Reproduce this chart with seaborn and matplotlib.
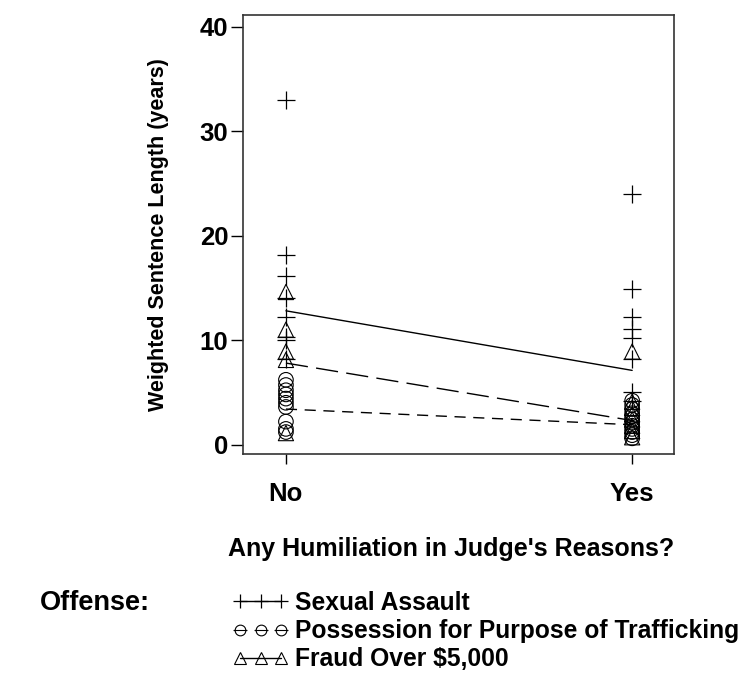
"""
Weighted sentence length by offense, split by whether the judge's
reasons contained any humiliation (No / Yes).
Points = individual cases, lines = weighted mean per offense.
"""
import numpy as np
import pandas as pd
import matplotlib
matplotlib.use("Agg")
import matplotlib.pyplot as plt
from matplotlib.lines import Line2D
from matplotlib.path import Path
import seaborn as sns

# ---- data ----
offenses = ["Sexual Assault", "Possession for Purpose of Trafficking", "Fraud Over $5,000"]
groups = ["No", "Yes"]

sexual_no = [33.0, 18.1, 16.1, 14.0, 12.2, 10.3, 10.0, 8.2]
sexual_yes = [24.0, 14.9, 12.2, 11.1, 10.2, 8.2, 5.0, 4.2]
traffic_no = [6.2, 5.7, 5.2, 4.8, 4.4, 4.0, 3.6, 2.2, 1.5, 1.2]
traffic_yes = [4.2, 3.8, 3.4, 3.0, 2.7, 2.4, 2.1, 1.8, 1.5, 1.2, 0.9, 0.6]
fraud_no = [14.6, 11.0, 8.9, 8.1, 1.1]
fraud_yes = [8.9, 4.1, 3.5, 2.9, 2.4, 1.8, 1.3, 0.7]

mean_sexual = [12.8, 7.1]
mean_traffic = [3.4, 1.9]
mean_fraud = [7.8, 2.3]

# ---- long tables ----
rows = []
for off, no_vals, yes_vals in [(offenses[0], sexual_no, sexual_yes),
                               (offenses[1], traffic_no, traffic_yes),
                               (offenses[2], fraud_no, fraud_yes)]:
    for v in no_vals:
        rows.append((off, 0, v))
    for v in yes_vals:
        rows.append((off, 1, v))
pts = pd.DataFrame(rows, columns=["Offense", "Humiliation", "Sentence"])

mrows = []
for off, m in zip(offenses, [mean_sexual, mean_traffic, mean_fraud]):
    for i, v in enumerate(m):
        mrows.append((off, i, v))
means = pd.DataFrame(mrows, columns=["Offense", "Humiliation", "Sentence"])

sns.set_theme(style="ticks")
plt.rcParams['font.family'] = ['Liberation Sans', 'DejaVu Sans']
plt.rcParams['font.weight'] = 'bold'
plt.rcParams['axes.labelweight'] = 'bold'
plt.rcParams['text.color'] = 'black'
plt.rcParams['axes.labelcolor'] = 'black'
plt.rcParams['xtick.color'] = 'black'
plt.rcParams['ytick.color'] = 'black'

marker_map = {offenses[0]: "+", offenses[1]: "o", offenses[2]: "^"}
size_map = {offenses[0]: 150, offenses[1]: 110, offenses[2]: 120}
dash_map = {offenses[0]: "", offenses[1]: (8, 5.5), offenses[2]: (16, 6)}

fig = plt.figure(figsize=(7.42, 6.77), dpi=100)
ax = fig.add_axes([0.3275, 0.3294, 0.5809, 0.6484])

# individual points
for off in offenses:
    sub = pts[pts["Offense"] == off]
    kw = dict(facecolor="none", edgecolor="black", linewidth=0.8)
    if marker_map[off] == "+":
        kw = dict(color="black", linewidth=0.9)
    sns.scatterplot(data=sub, x="Humiliation", y="Sentence", marker=marker_map[off],
                    s=size_map[off], ax=ax, legend=False, **kw)

# mean lines
sns.lineplot(data=means, x="Humiliation", y="Sentence", style="Offense",
             style_order=offenses, dashes=dash_map, color="black",
             linewidth=1.0, ax=ax, legend=False)

ax.set_xlim(-0.124, 1.121)
ax.set_ylim(-0.9, 41.1)
ax.set_xticks([0, 1])
ax.set_xticklabels(groups, fontsize=18.5, fontweight="bold")
ax.set_yticks([0, 10, 20, 30, 40])
ax.set_yticklabels(["0", "10", "20", "30", "40"], fontsize=18.5, fontweight="bold")
ax.tick_params(axis="x", length=7.5, width=1, pad=13)
ax.tick_params(axis="y", length=9, width=1, pad=1.5)
ax.set_xlabel("Any Humiliation in Judge's Reasons?", fontsize=18, fontweight="bold", labelpad=22)
ax.xaxis.label.set_x(0.484)
ax.set_ylabel("Weighted Sentence Length (years)", fontsize=15.5, fontweight="bold", labelpad=22)
for s in ax.spines.values():
    s.set_visible(True)
    s.set_color("#333333")
    s.set_linewidth(1.2)

# legend: circle crossed by a short dash for the trafficking key
ominus = Path.make_compound_path(
    Path.unit_circle(),
    Path([[-1.3, 0], [1.3, 0]], [Path.MOVETO, Path.LINETO]))
leg_fs = 17.7
handles = [
    Line2D([], [], color="black", lw=1.0, marker="+", markersize=10, markeredgewidth=0.9),
    Line2D([], [], color="black", ls="none", marker=ominus, markersize=10,
           markerfacecolor="none", markeredgewidth=0.8),
    Line2D([], [], color="black", lw=1.0, marker="^", markersize=9,
           markerfacecolor="none", markeredgewidth=0.8),
]
fig.legend(handles, offenses, loc="upper left", bbox_to_anchor=(0.313, 0.127),
           frameon=False, numpoints=3, handlelength=2.3, handletextpad=0.25,
           labelspacing=0.17, borderaxespad=0, borderpad=0,
           prop={"size": leg_fs, "weight": "bold"})
fig.text(0.054, 0.1093, "Offense:", fontsize=19.5, fontweight="bold", va="center", ha="left")

fig.savefig("out.png", dpi=100)
